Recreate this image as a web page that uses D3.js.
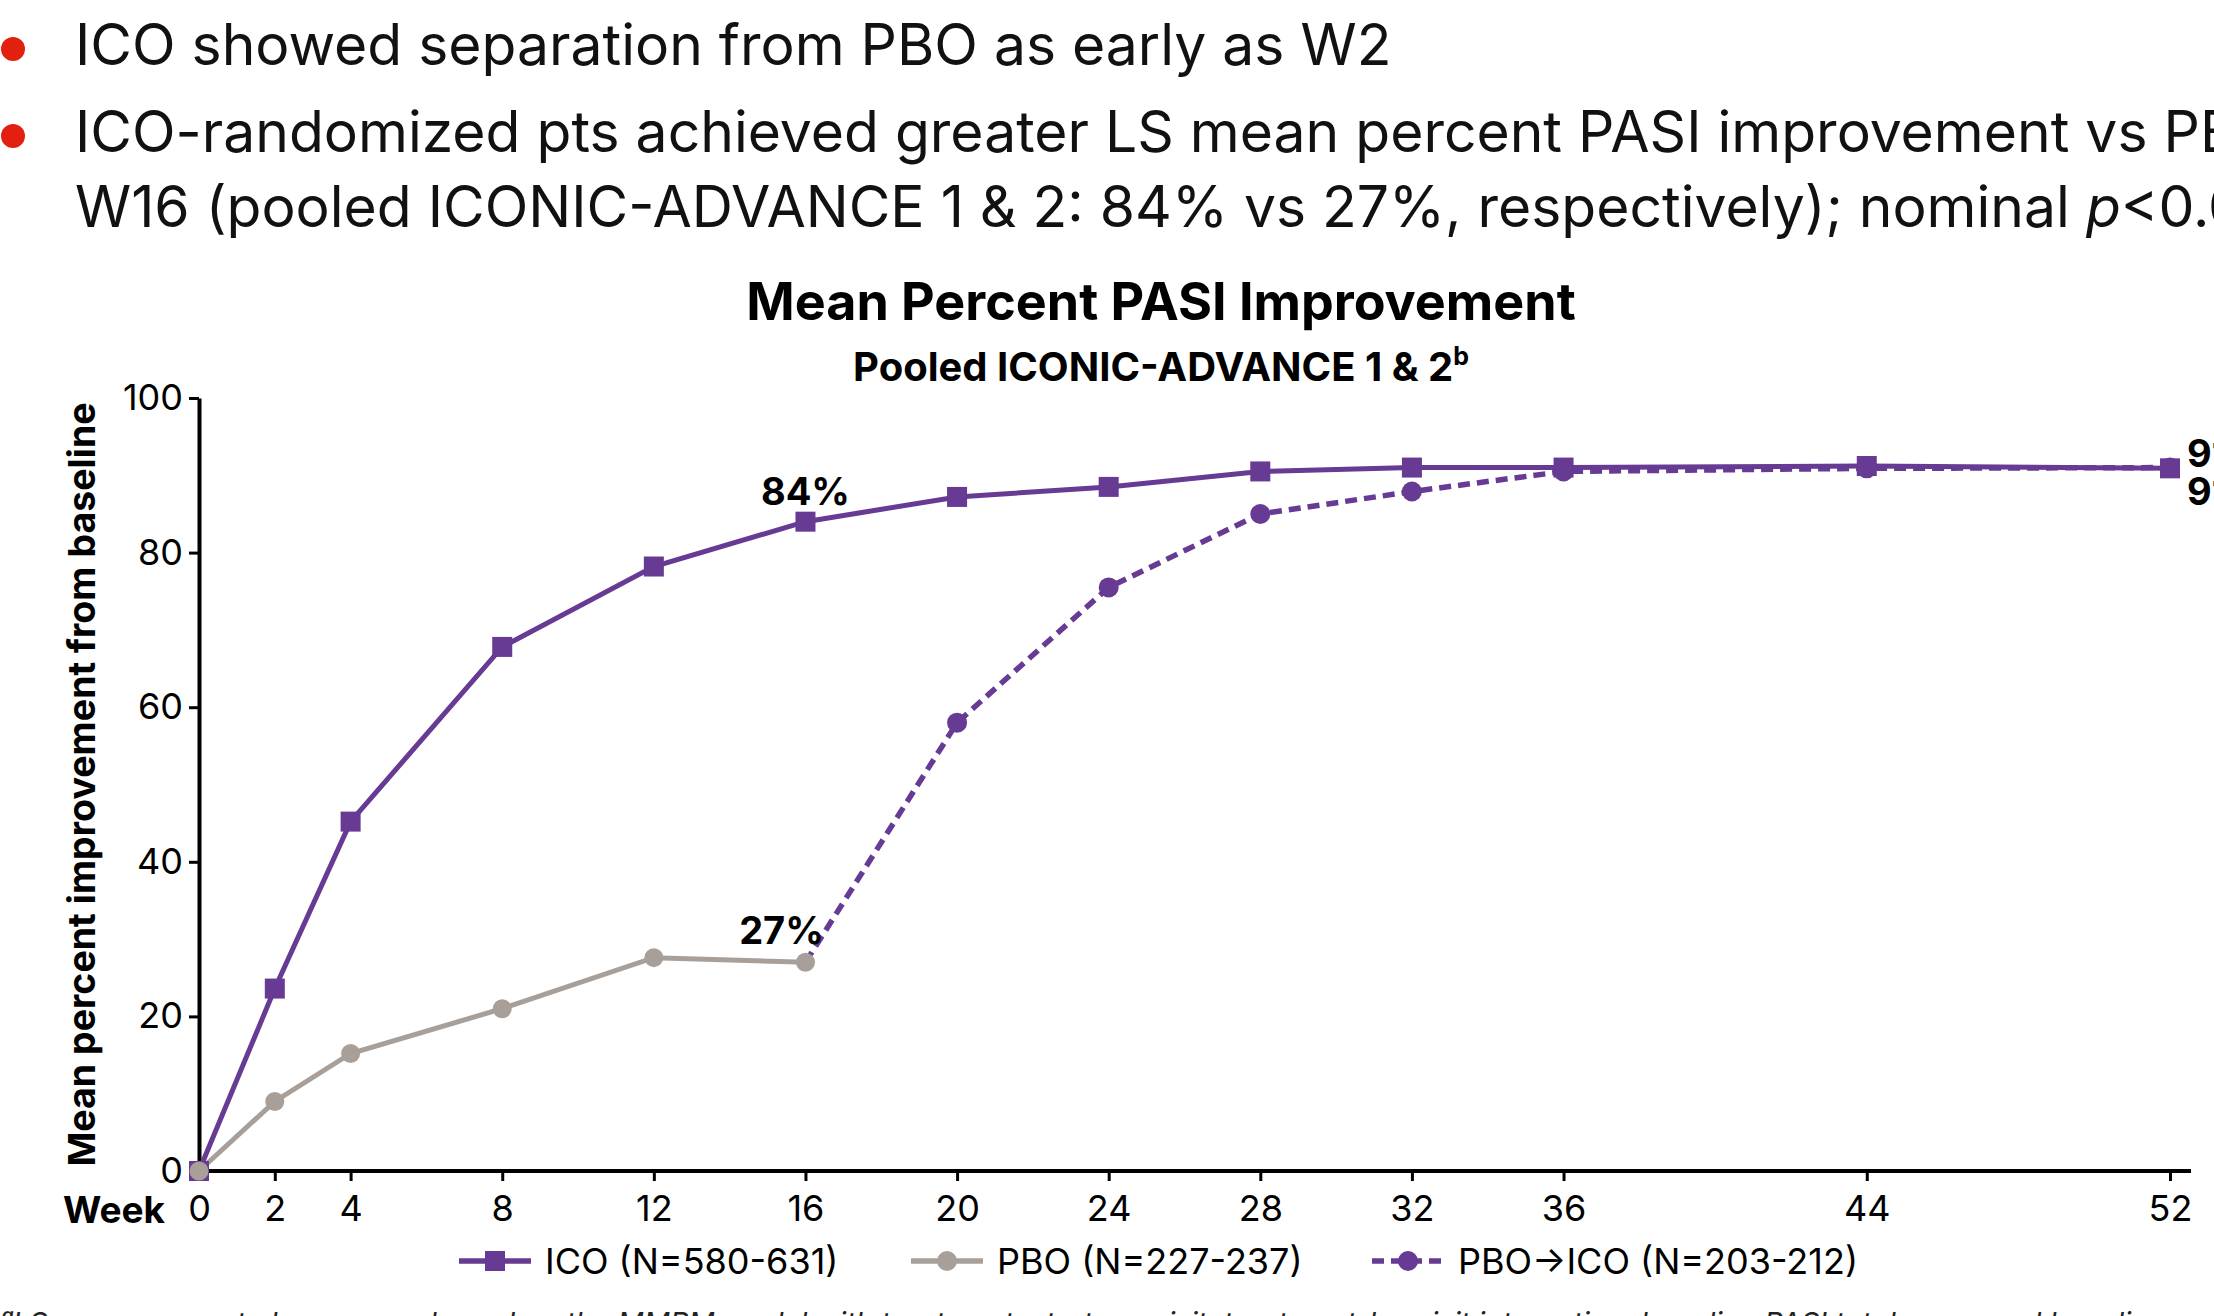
<!DOCTYPE html>
<html>
<head>
<meta charset="utf-8">
<script src="https://cdn.jsdelivr.net/npm/d3@7"></script>
<style>
  body { margin: 0; background: #fff; overflow: hidden; }
  text { font-family: Inter, "Open Sans", sans-serif; }
</style>
</head>
<body>
<div id="chart"></div>
<script>
// Data
const icoWeeks = [0, 2, 4, 8, 12, 16, 20, 24, 28, 32, 36, 44, 52];
const icoValues = [0, 23.6, 45.2, 67.8, 78.2, 84, 87.2, 88.5, 90.5, 91.0, 91.0, 91.2, 90.9];

const pboWeeks = [0, 2, 4, 8, 12, 16];
const pboValues = [0, 9.0, 15.2, 21.0, 27.6, 27];

const switchWeeks = [16, 20, 24, 28, 32, 36, 44, 52];
const switchValues = [27, 58.0, 75.5, 85.0, 87.9, 90.5, 90.9, 91.0];

const xTicks = [0, 2, 4, 8, 12, 16, 20, 24, 28, 32, 36, 44, 52];
const yTicks = [0, 20, 40, 60, 80, 100];

const legendLabels = ["ICO (N=580-631)", "PBO (N=227-237)", "PBO\u2192ICO (N=203-212)"];

const purple = "#673a93";
const grey = "#a89f99";

// Chart dimensions
const width = 2214;
const height = 1316;

const svg = d3.select("#chart").append("svg")
.attr("width", width)
.attr("height", height);

// Bullet points
const bullets = [
  { y: 65, dot: true, parts: [{ t: "ICO showed separation from PBO as early as W2" }] },
  { y: 152, dot: true, parts: [{ t: "ICO-randomized pts achieved greater LS mean percent PASI improvement vs PBO at" }] },
  { y: 227, dot: false, parts: [{ t: "W16 (pooled ICONIC-ADVANCE 1 & 2: 84% vs 27%, respectively); nominal " }, { t: "p", i: true }, { t: "<0.001" }] }
];

bullets.forEach(b => {
  if (b.dot) {
    svg.append("circle")
    .attr("cx", 13)
    .attr("cy", b.y - 16)
    .attr("r", 12)
    .attr("fill", "#e3200f");
  }
  const t = svg.append("text")
  .attr("x", 75)
  .attr("y", b.y)
  .attr("font-size", 57)
  .attr("fill", "#111");
  b.parts.forEach(p => {
    t.append("tspan").text(p.t).attr("font-style", p.i ? "italic" : null);
  });
});

// Titles
svg.append("text")
.attr("x", 1161)
.attr("y", 320)
.attr("text-anchor", "middle")
.attr("font-size", 52)
.attr("font-weight", 700)
.text("Mean Percent PASI Improvement");

const sub = svg.append("text")
.attr("x", 1161)
.attr("y", 381)
.attr("text-anchor", "middle")
.attr("font-size", 40)
.attr("font-weight", 700);
sub.append("tspan").text("Pooled ICONIC-ADVANCE 1 & 2");
sub.append("tspan").text("b").attr("font-size", 25).attr("dy", -16);

// Scales
const x = d3.scaleLinear().domain([0, 52]).range([199, 2170]);
const y = d3.scaleLinear().domain([0, 100]).range([1171, 398]);

// Axes
const xAxis = svg.append("g")
.attr("transform", `translate(0,${y(0)})`)
.call(d3.axisBottom(x).tickValues(xTicks).tickSize(10).tickPadding(14).tickSizeOuter(0));

xAxis.select(".domain").remove();
xAxis.append("line")
.attr("x1", x(0)).attr("x2", 2191)
.attr("stroke", "#000").attr("stroke-width", 4);

const yAxis = svg.append("g")
.attr("transform", `translate(${x(0)},0)`)
.call(d3.axisLeft(y).tickValues(yTicks).tickSize(10).tickPadding(6).tickSizeOuter(0));

svg.selectAll(".tick line").attr("stroke", "#000").attr("stroke-width", 3);
svg.selectAll(".tick text").attr("font-size", 36).attr("fill", "#000")
.style("font-family", "Inter, sans-serif");
yAxis.select(".domain").attr("stroke", "#000").attr("stroke-width", 4);

svg.append("text")
.attr("x", 165)
.attr("y", 1223)
.attr("text-anchor", "end")
.attr("font-size", 37)
.attr("font-weight", 700)
.text("Week");

svg.append("text")
.attr("transform", `translate(95,${(y(0) + y(100)) / 2}) rotate(-90)`)
.attr("text-anchor", "middle")
.attr("font-size", 37.5)
.attr("font-weight", 700)
.text("Mean percent improvement from baseline");

// Lines
const line = d3.line().x(d => x(d[0])).y(d => y(d[1]));

const pboData = d3.zip(pboWeeks, pboValues);
const icoData = d3.zip(icoWeeks, icoValues);
const switchData = d3.zip(switchWeeks, switchValues);

svg.append("path")
.datum(pboData)
.attr("d", line)
.attr("fill", "none")
.attr("stroke", grey)
.attr("stroke-width", 5);

svg.append("path")
.datum(switchData)
.attr("d", line)
.attr("fill", "none")
.attr("stroke", purple)
.attr("stroke-width", 5.5)
.attr("stroke-dasharray", "12,7");

svg.append("path")
.datum(icoData)
.attr("d", line)
.attr("fill", "none")
.attr("stroke", purple)
.attr("stroke-width", 5);

// Markers
const sq = 20;
svg.append("g").selectAll("rect").data(icoData).join("rect")
.attr("x", d => x(d[0]) - sq / 2)
.attr("y", d => y(d[1]) - sq / 2)
.attr("width", sq)
.attr("height", sq)
.attr("fill", purple);

svg.append("g").selectAll("circle").data(switchData.slice(1)).join("circle")
.attr("cx", d => x(d[0]))
.attr("cy", d => y(d[1]))
.attr("r", 10)
.attr("fill", purple);

svg.append("g").selectAll("circle").data(pboData).join("circle")
.attr("cx", d => x(d[0]))
.attr("cy", d => y(d[1]))
.attr("r", 9.5)
.attr("fill", grey);

// Value labels
const valueLabels = [
  { x: x(16), y: 505, t: Math.round(icoValues[5]) + "%", a: "middle" },
  { x: x(16) - 24, y: 944, t: Math.round(pboValues[5]) + "%", a: "middle" },
  { x: 2187, y: 467, t: Math.round(icoValues[12]) + "%", a: "start" },
  { x: 2187, y: 505, t: Math.round(switchValues[7]) + "%", a: "start" }
];

svg.append("g").selectAll("text").data(valueLabels).join("text")
.attr("x", d => d.x)
.attr("y", d => d.y)
.attr("text-anchor", d => d.a)
.attr("font-size", 38)
.attr("font-weight", 700)
.text(d => d.t);

// Legend
const legendX = [459, 911, 1372];
const legendY = 1261;
const leg = svg.append("g").selectAll("g").data(legendLabels).join("g")
.attr("transform", (d, i) => `translate(${legendX[i]},${legendY})`);

leg.append("line")
.attr("x1", 0).attr("x2", 72)
.attr("stroke", (d, i) => i === 1 ? grey : purple)
.attr("stroke-width", 5.5)
.attr("stroke-dasharray", (d, i) => i === 2 ? "12,7" : null);

leg.each(function(d, i) {
  const g = d3.select(this);
  if (i === 0) {
    g.append("rect").attr("x", 36 - sq / 2).attr("y", -sq / 2).attr("width", sq).attr("height", sq).attr("fill", purple);
  } else {
    g.append("circle").attr("cx", 36).attr("r", 10).attr("fill", i === 1 ? grey : purple);
  }
});

leg.append("text")
.attr("x", 86)
.attr("y", 13)
.attr("font-size", 36)
.text(d => d);

// Footnote (cut by page edge)
svg.append("text")
.attr("x", 0)
.attr("y", 1333)
.attr("font-size", 29)
.attr("font-style", "italic")
.attr("fill", "#222")
.text("\u1d43LS mean percent change was based on the MMRM model with treatment, stratum, visit, treatment-by-visit interaction, baseline PASI total score and baseline");
</script>
</body>
</html>
